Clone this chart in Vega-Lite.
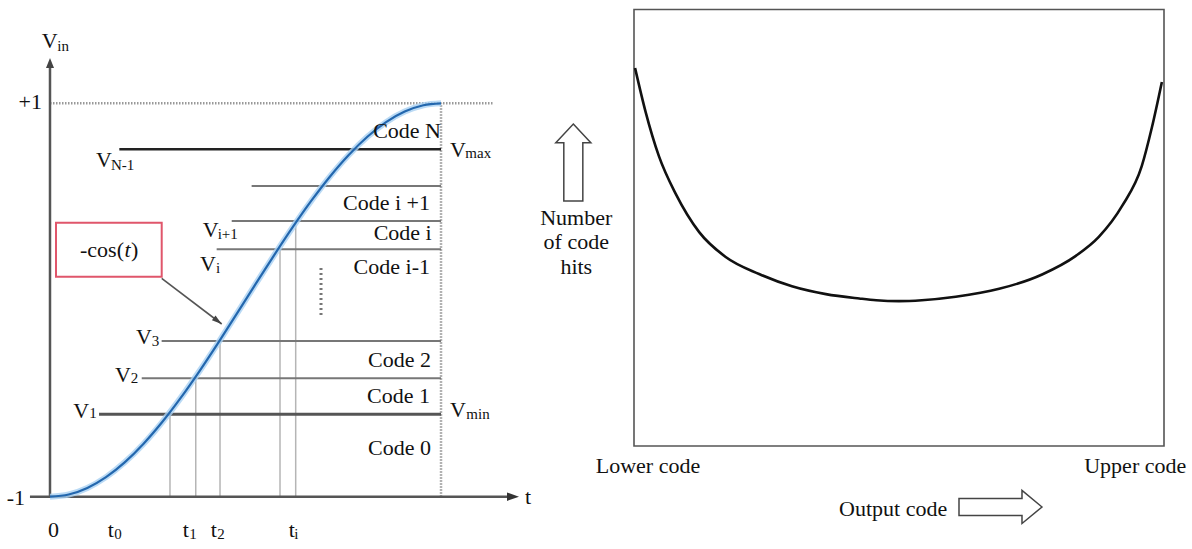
{
  "$schema": "https://vega.github.io/schema/vega-lite/v6.json",
  "padding": 0,
  "spacing": 0,
  "background": "white",
  "config": {
    "view": {"stroke": null},
    "concat": {"spacing": 0},
    "text": {"font": "Liberation Serif", "color": "#111"}
  },
  "datasets": {
    "cosine": [
      {"t": 0, "v": -1}, {"t": 0.15, "v": -0.9888}, {"t": 0.3, "v": -0.9553}, {"t": 0.45, "v": -0.9004},
      {"t": 0.6, "v": -0.8253}, {"t": 0.75, "v": -0.7317}, {"t": 0.9, "v": -0.6216}, {"t": 1.05, "v": -0.4976},
      {"t": 1.2, "v": -0.3624}, {"t": 1.35, "v": -0.219}, {"t": 1.5, "v": -0.0707}, {"t": 1.65, "v": 0.0792},
      {"t": 1.8, "v": 0.2272}, {"t": 1.95, "v": 0.3702}, {"t": 2.1, "v": 0.5048}, {"t": 2.25, "v": 0.6282},
      {"t": 2.4, "v": 0.7374}, {"t": 2.55, "v": 0.8301}, {"t": 2.7, "v": 0.9041}, {"t": 2.85, "v": 0.9578},
      {"t": 3.0, "v": 0.99}, {"t": 3.1416, "v": 1}
    ],
    "levels": [
      {"lvl": "VN-1", "t": 0.557, "t2": 3.1416, "v": 0.7667},
      {"lvl": "upper", "t": 1.62, "t2": 3.1416, "v": 0.5796},
      {"lvl": "Vi+1", "t": 1.46, "t2": 3.1416, "v": 0.4016},
      {"lvl": "Vi", "t": 1.339, "t2": 3.1416, "v": 0.2578},
      {"lvl": "V3", "t": 0.897, "t2": 3.1416, "v": -0.2084},
      {"lvl": "V2", "t": 0.737, "t2": 3.1416, "v": -0.398},
      {"lvl": "V1", "t": 0.394, "t2": 3.1416, "v": -0.5811}
    ],
    "drops": [
      {"t": 0.964, "v": -1, "v2": -0.5811},
      {"t": 1.171, "v": -1, "v2": -0.398},
      {"t": 1.366, "v": -1, "v2": -0.2084},
      {"t": 1.848, "v": -1, "v2": 0.2578},
      {"t": 1.974, "v": -1, "v2": 0.4016}
    ],
    "guides": [
      {"t": 0, "t2": 3.559, "v": 1, "v2": 1},
      {"t": 3.1416, "t2": 3.1416, "v": -1, "v2": 1}
    ],
    "axes": [
      {"t": 0, "t2": 0, "v": -1, "v2": 1.19},
      {"t": -0.161, "t2": 3.68, "v": -1, "v2": -1}
    ],
    "braces": [
      {"b": "t0", "t": 0.0, "t2": 0.948, "tm": 0.474},
      {"b": "t1", "t": 0.9963, "t2": 1.1835, "tm": 1.0903},
      {"b": "t2", "t": 1.2189, "t2": 1.4061, "tm": 1.3121},
      {"b": "ti", "t": 1.8399, "t2": 2.0223, "tm": 1.9307}
    ],
    "rightLabels": [
      {"text": "Code N", "t": 3.1416, "v": 0.8221},
      {"text": "Code i +1", "t": 3.0532, "v": 0.4575},
      {"text": "Code i", "t": 3.0667, "v": 0.305},
      {"text": "Code i-1", "t": 3.0532, "v": 0.1307},
      {"text": "Code 2", "t": 3.0612, "v": -0.3391},
      {"text": "Code 1", "t": 3.0532, "v": -0.5252},
      {"text": "Code 0", "t": 3.0612, "v": -0.788},
      {"text": "+1", "t": -0.0643, "v": 0.971},
      {"text": "-1", "t": -0.2009, "v": -1.0422}
    ],
    "names": [
      {"text": "V", "t": -0.0667, "v": 1.2827},
      {"text": "V", "t": 0.3696, "v": 0.6777},
      {"text": "V", "t": 3.2139, "v": 0.7285},
      {"text": "V", "t": 1.2269, "v": 0.3218},
      {"text": "V", "t": 1.2052, "v": 0.149},
      {"text": "V", "t": 0.691, "v": -0.2237},
      {"text": "V", "t": 0.5223, "v": -0.4154},
      {"text": "V", "t": 0.1872, "v": -0.6014},
      {"text": "V", "t": 3.2139, "v": -0.5933},
      {"text": "t", "t": 3.8165, "v": -1.0371},
      {"text": "0", "t": -0.0161, "v": -1.2064},
      {"text": "t", "t": 0.4636, "v": -1.2064},
      {"text": "t", "t": 1.0662, "v": -1.2064},
      {"text": "t", "t": 1.2912, "v": -1.2064},
      {"text": "t", "t": 1.9179, "v": -1.2064},
      {"text": "-cos(", "t": 0.241, "v": 0.2201},
      {"text": ")", "t": 0.6508, "v": 0.2201}
    ],
    "subs": [
      {"text": "in", "t": 0.0587, "v": 1.2684},
      {"text": "N-1", "t": 0.4901, "v": 0.6609},
      {"text": "max", "t": 3.3368, "v": 0.7204},
      {"text": "i+1", "t": 1.3474, "v": 0.3086},
      {"text": "i", "t": 1.3338, "v": 0.1388},
      {"text": "3", "t": 0.8171, "v": -0.2323},
      {"text": "2", "t": 0.6484, "v": -0.4235},
      {"text": "1", "t": 0.3158, "v": -0.6014},
      {"text": "min", "t": 3.3448, "v": -0.6065},
      {"text": "0", "t": 0.5166, "v": -1.215},
      {"text": "1", "t": 1.1192, "v": -1.215},
      {"text": "2", "t": 1.3442, "v": -1.215},
      {"text": "i", "t": 1.9629, "v": -1.215}
    ],
    "callout": [{"t": 0.0482, "t2": 0.8975, "v": 0.393, "v2": 0.1185}],
    "pointer": [{"t": 0.8975, "t2": 1.3796, "v": 0.1103, "v2": -0.122}],
    "hits": [
      {"c": 0.002, "h": 86.6}, {"c": 0.022, "h": 76.5}, {"c": 0.047, "h": 66.4}, {"c": 0.079, "h": 57.7},
      {"c": 0.123, "h": 49.0}, {"c": 0.173, "h": 43.3}, {"c": 0.236, "h": 39.4}, {"c": 0.298, "h": 36.6},
      {"c": 0.362, "h": 34.8}, {"c": 0.425, "h": 33.8}, {"c": 0.457, "h": 33.4}, {"c": 0.5, "h": 33.2},
      {"c": 0.543, "h": 33.4}, {"c": 0.607, "h": 34.2}, {"c": 0.689, "h": 36.0}, {"c": 0.77, "h": 39.3},
      {"c": 0.833, "h": 43.5}, {"c": 0.877, "h": 47.9}, {"c": 0.921, "h": 55.0}, {"c": 0.958, "h": 64.1},
      {"c": 0.977, "h": 72.9}, {"c": 0.996, "h": 83.4}
    ],
    "histLabels": [
      {"text": "Lower code", "c": 0.0264, "h": -6.117},
      {"text": "Upper code", "c": 0.9457, "h": -6.117},
      {"text": "Output code", "c": 0.489, "h": -16.04},
      {"text": "Number", "c": -0.1089, "h": 50.63},
      {"text": "of code", "c": -0.1089, "h": 45.06},
      {"text": "hits", "c": -0.1089, "h": 39.4}
    ]
  },
  "hconcat": [
    {
      "width": 540,
      "height": 549,
      "encoding": {
        "x": {"field": "t", "type": "quantitative", "scale": {"domain": [-0.4017, 3.9369], "nice": false, "zero": false}, "axis": null},
        "y": {"field": "v", "type": "quantitative", "scale": {"domain": [-1.2659, 1.5252], "nice": false, "zero": false}, "axis": null}
      },
      "layer": [
        {
          "data": {"name": "guides"},
          "mark": {"type": "rule", "color": "#999", "strokeWidth": 2.5, "strokeDash": [1.5, 1.5]},
          "encoding": {"x2": {"field": "t2"}, "y2": {"field": "v2"}}
        },
        {
          "data": {"name": "drops"},
          "mark": {"type": "rule", "color": "#b5b5b5", "strokeWidth": 1.5},
          "encoding": {"y2": {"field": "v2"}}
        },
        {
          "data": {"name": "levels"},
          "transform": [{"filter": "datum.lvl != 'VN-1' && datum.lvl != 'V1'"}],
          "mark": {"type": "rule", "color": "#777", "strokeWidth": 2},
          "encoding": {"x2": {"field": "t2"}}
        },
        {
          "data": {"name": "levels"},
          "transform": [{"filter": "datum.lvl == 'VN-1'"}],
          "mark": {"type": "rule", "color": "#222", "strokeWidth": 2.5},
          "encoding": {"x2": {"field": "t2"}}
        },
        {
          "data": {"name": "levels"},
          "transform": [{"filter": "datum.lvl == 'V1'"}],
          "mark": {"type": "rule", "color": "#555", "strokeWidth": 3},
          "encoding": {"x2": {"field": "t2"}}
        },
        {
          "data": {"values": [{"t": 2.1774, "v": 0.1627, "v2": -0.0915}]},
          "mark": {"type": "rule", "color": "#777", "strokeWidth": 3, "strokeDash": [2, 3]},
          "encoding": {"y2": {"field": "v2"}}
        },
        {
          "data": {"name": "axes"},
          "mark": {"type": "rule", "color": "#555", "strokeWidth": 2.5},
          "encoding": {"x2": {"field": "t2"}, "y2": {"field": "v2"}}
        },
        {
          "data": {"values": [{"t": 0, "v": 1.2049}]},
          "mark": {"type": "point", "shape": "M0,-1 L0.8,1 L-0.8,1 Z", "size": 100, "filled": true, "color": "#444", "opacity": 1}
        },
        {
          "data": {"values": [{"t": 3.72, "v": -1}]},
          "mark": {"type": "point", "shape": "M1,0 L-1,0.7 L-1,-0.7 Z", "size": 144, "filled": true, "color": "#333", "opacity": 1}
        },
        {
          "data": {"name": "cosine"},
          "mark": {"type": "line", "color": "#a9d1f2", "strokeWidth": 6, "opacity": 0.8, "interpolate": "monotone"},
          "encoding": {"order": {"field": "t"}}
        },
        {
          "data": {"name": "cosine"},
          "mark": {"type": "line", "color": "#2367ae", "strokeWidth": 2.2, "interpolate": "monotone"},
          "encoding": {"order": {"field": "t"}}
        },
        {
          "data": {"name": "braces"},
          "mark": {"type": "rule", "color": "#444", "strokeWidth": 2},
          "encoding": {"x2": {"field": "t2"}, "y": {"datum": -1.0676}}
        },
        {
          "data": {"name": "braces"},
          "mark": {"type": "rule", "color": "#444", "strokeWidth": 2},
          "encoding": {"y": {"datum": -1.0676}, "y2": {"datum": -1.0473}}
        },
        {
          "data": {"name": "braces"},
          "mark": {"type": "rule", "color": "#444", "strokeWidth": 2},
          "encoding": {"x": {"field": "t2", "type": "quantitative"}, "y": {"datum": -1.0676}, "y2": {"datum": -1.0473}}
        },
        {
          "data": {"name": "braces"},
          "mark": {"type": "rule", "color": "#444", "strokeWidth": 2},
          "encoding": {"x": {"field": "tm", "type": "quantitative"}, "y": {"datum": -1.0676}, "y2": {"datum": -1.088}}
        },
        {
          "data": {"name": "callout"},
          "mark": {"type": "rect", "filled": false, "stroke": "#e0566b", "strokeWidth": 2},
          "encoding": {"x2": {"field": "t2"}, "y2": {"field": "v2"}}
        },
        {
          "data": {"name": "pointer"},
          "mark": {"type": "rule", "color": "#555", "strokeWidth": 1.6},
          "encoding": {"x2": {"field": "t2"}, "y2": {"field": "v2"}}
        },
        {
          "data": {"values": [{"t": 1.3474, "v": -0.1068}]},
          "mark": {"type": "point", "shape": "M1,0 L-1,0.6 L-1,-0.6 Z", "size": 100, "angle": 37.3, "filled": true, "color": "#444", "opacity": 1}
        },
        {
          "data": {"name": "rightLabels"},
          "mark": {"type": "text", "align": "right", "baseline": "alphabetic", "fontSize": 22},
          "encoding": {"text": {"field": "text"}}
        },
        {
          "data": {"name": "names"},
          "mark": {"type": "text", "align": "left", "baseline": "alphabetic", "fontSize": 22},
          "encoding": {"text": {"field": "text"}}
        },
        {
          "data": {"values": [{"text": "t", "t": 0.5986, "v": 0.2201}]},
          "mark": {"type": "text", "align": "left", "baseline": "alphabetic", "fontSize": 22, "fontStyle": "italic"},
          "encoding": {"text": {"field": "text"}}
        },
        {
          "data": {"name": "subs"},
          "mark": {"type": "text", "align": "left", "baseline": "alphabetic", "fontSize": 15},
          "encoding": {"text": {"field": "text"}}
        }
      ]
    },
    {
      "width": 632,
      "height": 549,
      "encoding": {
        "x": {"field": "c", "type": "quantitative", "scale": {"domain": [-0.14151, 1.05094], "nice": false, "zero": false}, "axis": null},
        "y": {"field": "h", "type": "quantitative", "scale": {"domain": [-23.597, 102.176], "nice": false, "zero": false}, "axis": null}
      },
      "layer": [
        {
          "data": {"values": [{"c": 0, "c2": 1, "h": 0, "h2": 100}]},
          "mark": {"type": "rect", "filled": false, "stroke": "#555", "strokeWidth": 1.6},
          "encoding": {"x2": {"field": "c2"}, "y2": {"field": "h2"}}
        },
        {
          "data": {"name": "hits"},
          "mark": {"type": "line", "color": "#111", "strokeWidth": 2.6, "interpolate": "monotone"},
          "encoding": {"order": {"field": "c"}}
        },
        {
          "data": {"values": [{"c": -0.1145, "h": 64.95}]},
          "mark": {"type": "point", "shape": "M0,-1 L0.455,-0.514 L0.247,-0.514 L0.247,1 L-0.247,1 L-0.247,-0.514 L-0.455,-0.514 Z", "size": 5929, "filled": false, "fill": "white", "stroke": "#444", "strokeWidth": 1.5, "opacity": 1}
        },
        {
          "data": {"values": [{"c": 0.6915, "h": -13.97}]},
          "mark": {"type": "point", "shape": "M1,0 L0.518,-0.398 L0.518,-0.205 L-1,-0.205 L-1,0.205 L0.518,0.205 L0.518,0.398 Z", "size": 6889, "filled": false, "fill": "white", "stroke": "#444", "strokeWidth": 1.5, "opacity": 1}
        },
        {
          "data": {"name": "histLabels"},
          "mark": {"type": "text", "align": "center", "baseline": "alphabetic", "fontSize": 22},
          "encoding": {"text": {"field": "text"}}
        }
      ]
    }
  ]
}
